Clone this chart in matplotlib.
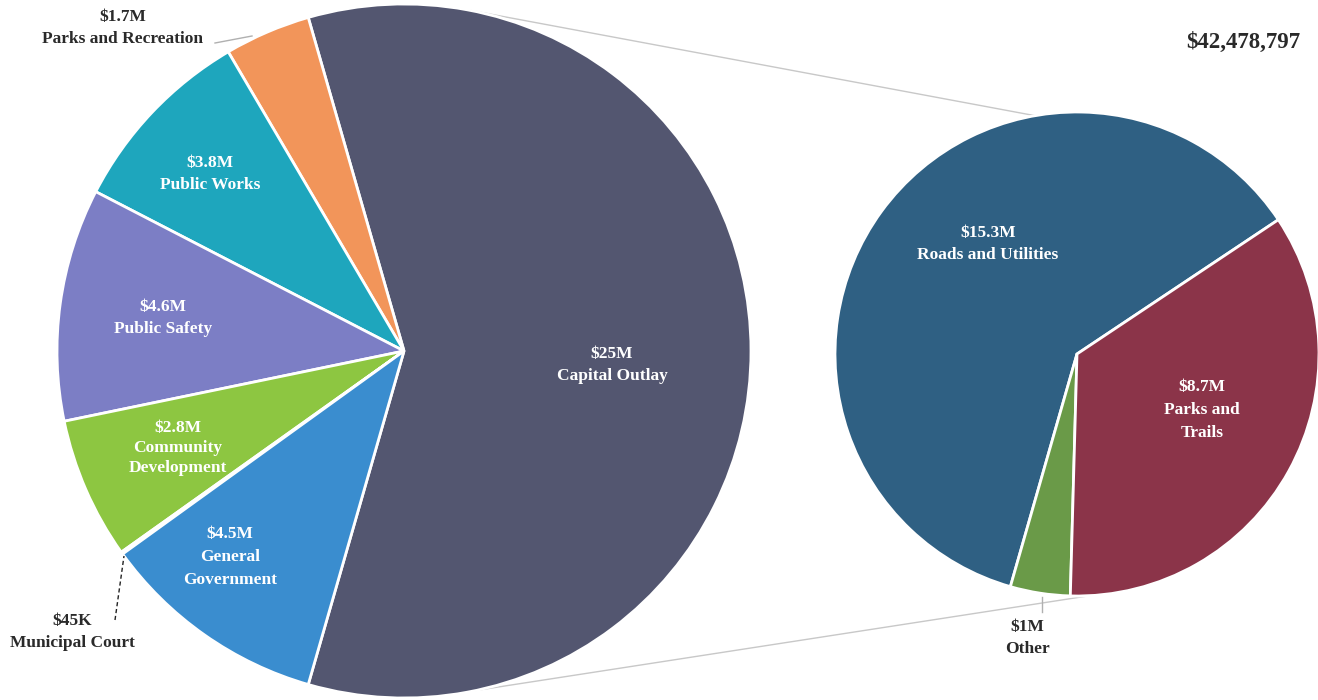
import matplotlib
matplotlib.use("Agg")
import matplotlib.pyplot as plt
import numpy as np

# ---- data ----
main_labels = ["Capital Outlay", "Parks and Recreation", "Public Works", "Public Safety",
               "Community Development", "Municipal Court", "General Government"]
main_values = [25.0, 1.7, 3.8, 4.6, 2.8, 0.045, 4.5]
main_value_text = ["$25M", "$1.7M", "$3.8M", "$4.6M", "$2.8M", "$45K", "$4.5M"]
main_colors = ["#535670", "#f2955a", "#1ea6bd", "#7c7ec5", "#8dc641", "#8dc641", "#3a8dcf"]

sub_labels = ["Roads and Utilities", "Other", "Parks and Trails"]
sub_values = [15.3, 1.0, 8.7]
sub_value_text = ["$15.3M", "$1M", "$8.7M"]
sub_colors = ["#2f6083", "#6a9a48", "#8b3449"]

total_text = "$42,478,797"

W, H = 1318, 700
fig = plt.figure(figsize=(W / 100, H / 100), dpi=100)
ax = fig.add_axes([0, 0, 1, 1])

font = dict(family="Liberation Serif", fontweight="bold", fontsize=12.5)

# main pie
c1 = (404, 349); r1 = 347
start1 = -main_values[0] / sum(main_values) * 180
ax.pie(main_values, colors=main_colors, startangle=start1, counterclock=True,
       center=c1, radius=r1, frame=False,
       wedgeprops=dict(edgecolor="white", linewidth=2))

# sub pie
c2 = (1077, 346); r2 = 242
ax.pie(sub_values, colors=sub_colors, startangle=33.7, counterclock=True,
       center=c2, radius=r2, frame=False,
       wedgeprops=dict(edgecolor="white", linewidth=2))

ax.set_xlim(0, W)
ax.set_ylim(0, H)
ax.set_aspect("equal")
ax.axis("off")

# connector lines between pies
def pt(c, r, a):
    return c[0] + r * np.cos(np.radians(a)), c[1] + r * np.sin(np.radians(a))

p1 = pt(c1, r1, 79); q1 = pt(c2, r2, 100)
p2 = pt(c1, r1, -78); q2 = pt(c2, r2, -87)
ax.plot([p1[0], q1[0]], [p1[1], q1[1]], color="#c8c8c8", lw=1, zorder=0)
ax.plot([p2[0], q2[0]], [p2[1], q2[1]], color="#c8c8c8", lw=1, zorder=0)

def lab(x, y, vt, name, color="white", ls=1.55):
    ax.text(x, H - y, vt + "\n" + name, ha="center", va="center", color=color,
            linespacing=ls, **font)

# inside labels (pixel positions, y from top)
lab(612, 365, main_value_text[0], "Capital Outlay")
lab(210, 174, main_value_text[2], "Public Works")
lab(163, 318, main_value_text[3], "Public Safety")
lab(178, 448, main_value_text[4], "Community\nDevelopment", ls=1.35)
lab(230, 557, main_value_text[6], "General\nGovernment")
lab(988, 244, sub_value_text[0], "Roads and Utilities")
lab(1202, 410, sub_value_text[2], "Parks and\nTrails")

# outside labels
dark = "#2a2a2a"
lab(123, 28, main_value_text[1], "Parks and Recreation", dark)
ax.plot([215, 252], [H - 43, H - 36], color="#b0b0b0", lw=1)
lab(72, 632, main_value_text[5], "Municipal Court", dark)
ax.plot([115, 124], [H - 620, H - 556], color="#222222", lw=1, ls=(0, (3, 2)))
lab(1027, 638, sub_value_text[1], "Other", dark)
ax.plot([1042, 1042], [H - 597, H - 612], color="#b0b0b0", lw=1)

ax.text(1300, H - 42, total_text, ha="right", va="center", color=dark,
        family="Liberation Serif", fontweight="bold", fontsize=16.5)

fig.savefig("out.png", dpi=100)
